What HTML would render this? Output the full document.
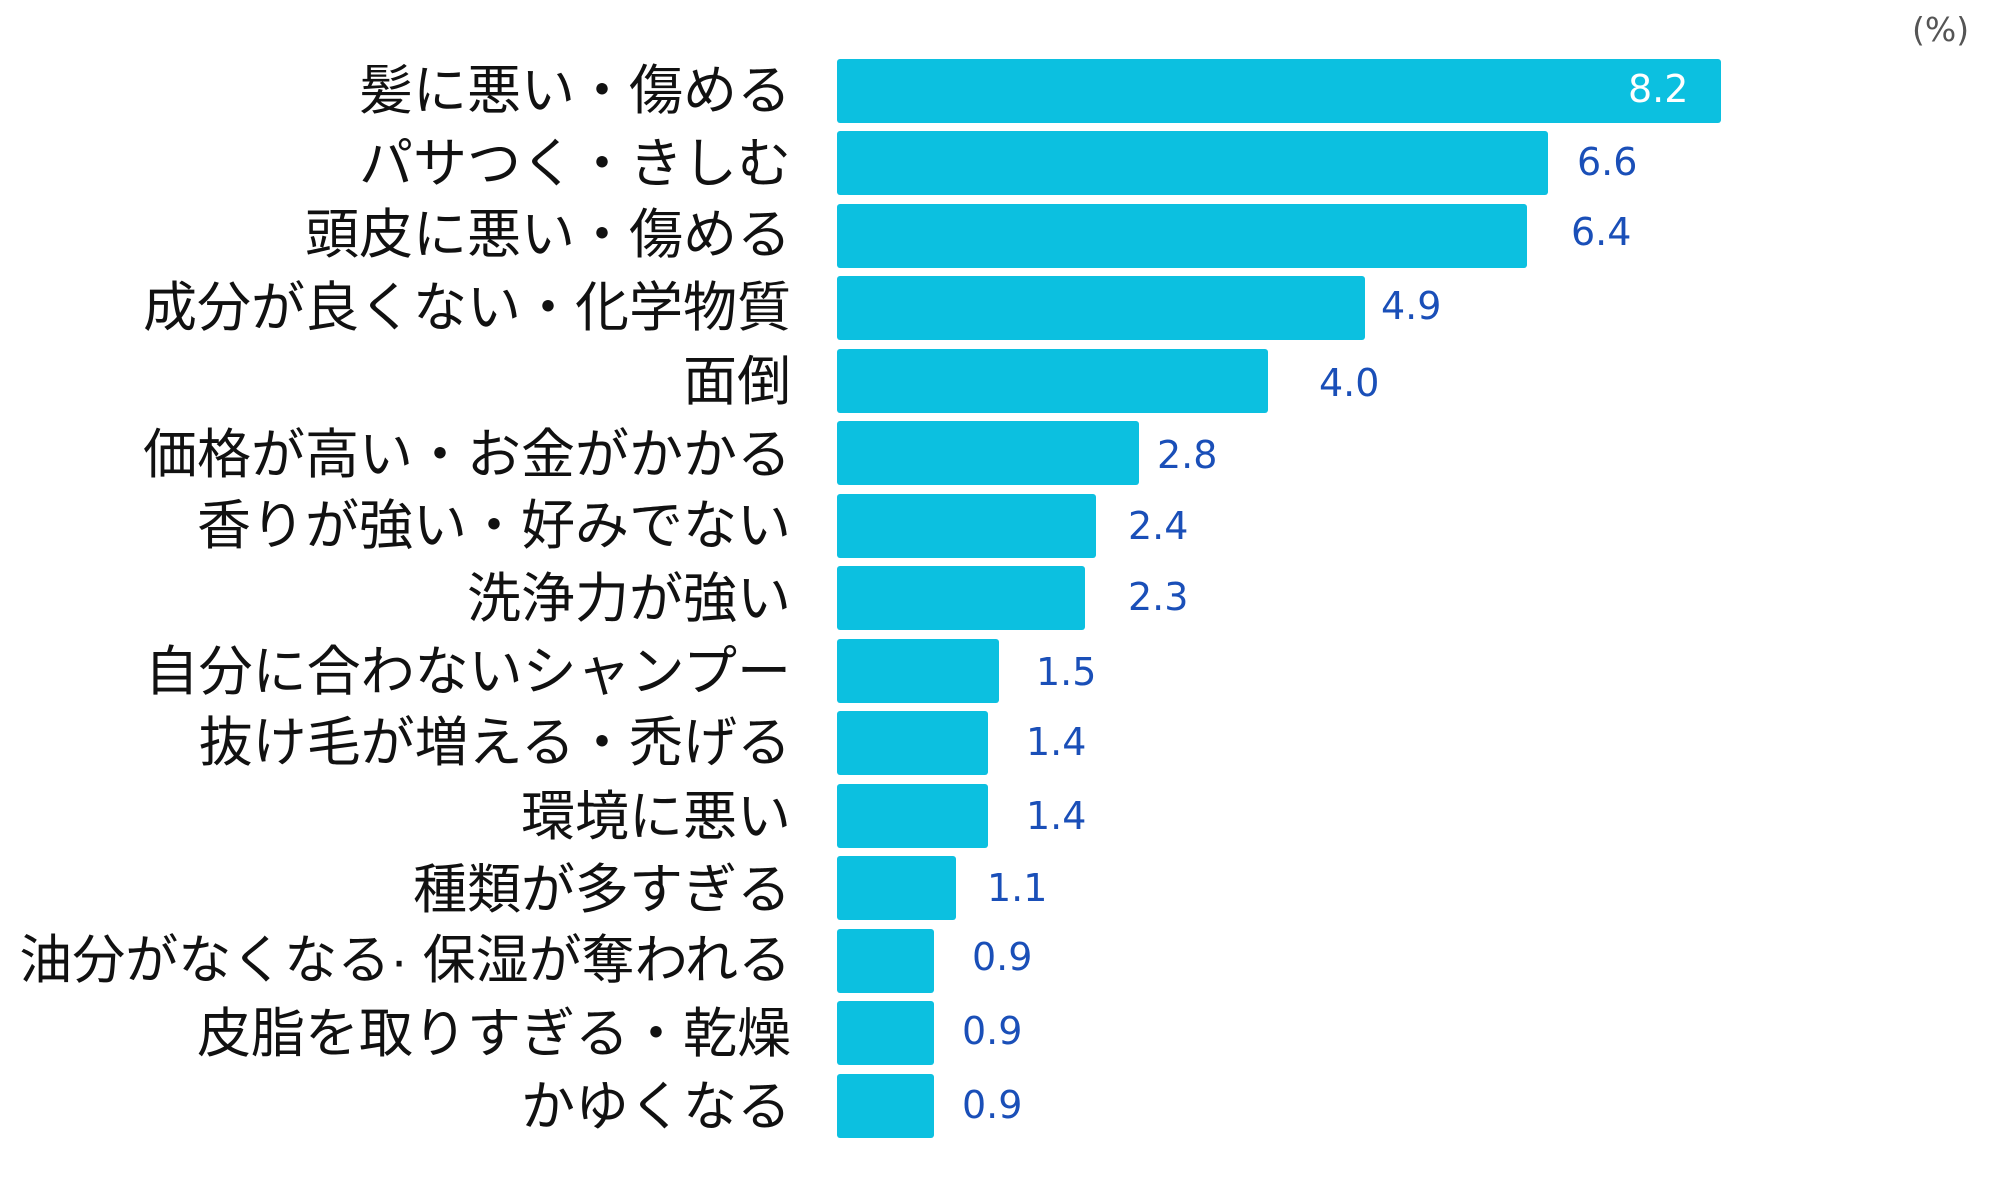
<!DOCTYPE html>
<html><head><meta charset="utf-8"><style>
body{margin:0;width:2000px;height:1200px;background:#fff;position:relative;overflow:hidden}
.b{position:absolute;left:837px;height:64px;background:#0cc0e0;border-radius:3px}
.l{position:absolute;right:1209px;font-family:"Liberation Sans","Noto Sans CJK JP",sans-serif;font-size:54px;color:#111;white-space:nowrap;line-height:60px;transform:translateY(-28px)}
.v{position:absolute;font-family:"DejaVu Sans",sans-serif;font-size:38px;color:#1a4fb8;line-height:44px;transform:translateY(-22px)}
</style></head><body>
<div style="position:absolute;left:1912px;top:10px;font-family:'DejaVu Sans',sans-serif;font-size:33px;color:#555">(%)</div>

<div class="b" style="top:59px;width:884px"></div>
<div class="b" style="top:131px;width:711px"></div>
<div class="b" style="top:204px;width:690px"></div>
<div class="b" style="top:276px;width:528px"></div>
<div class="b" style="top:349px;width:431px"></div>
<div class="b" style="top:421px;width:302px"></div>
<div class="b" style="top:494px;width:259px"></div>
<div class="b" style="top:566px;width:248px"></div>
<div class="b" style="top:639px;width:162px"></div>
<div class="b" style="top:711px;width:151px"></div>
<div class="b" style="top:784px;width:151px"></div>
<div class="b" style="top:856px;width:119px"></div>
<div class="b" style="top:929px;width:97px"></div>
<div class="b" style="top:1001px;width:97px"></div>
<div class="b" style="top:1074px;width:97px"></div>

<div class="l" style="top:89px">髪に悪い・傷める</div>
<div class="l" style="top:162px">パサつく・きしむ</div>
<div class="l" style="top:233px">頭皮に悪い・傷める</div>
<div class="l" style="top:306px">成分が良くない・化学物質</div>
<div class="l" style="top:380px">面倒</div>
<div class="l" style="top:453px">価格が高い・お金がかかる</div>
<div class="l" style="top:524px">香りが強い・好みでない</div>
<div class="l" style="top:597px">洗浄力が強い</div>
<div class="l" style="top:670px">自分に合わないシャンプー</div>
<div class="l" style="top:741px">抜け毛が増える・禿げる</div>
<div class="l" style="top:815px">環境に悪い</div>
<div class="l" style="top:888px">種類が多すぎる</div>
<div class="l" style="top:959px;font-size:53px">油分がなくなる· 保湿が奪われる</div>
<div class="l" style="top:1032px">皮脂を取りすぎる・乾燥</div>
<div class="l" style="top:1105px">かゆくなる</div>

<div class="v" style="left:1628px;top:89px;color:#fff">8.2</div>
<div class="v" style="left:1577px;top:162px">6.6</div>
<div class="v" style="left:1571px;top:232px">6.4</div>
<div class="v" style="left:1381px;top:306px">4.9</div>
<div class="v" style="left:1319px;top:383px">4.0</div>
<div class="v" style="left:1157px;top:455px">2.8</div>
<div class="v" style="left:1128px;top:526px">2.4</div>
<div class="v" style="left:1128px;top:597px">2.3</div>
<div class="v" style="left:1036px;top:672px">1.5</div>
<div class="v" style="left:1026px;top:742px">1.4</div>
<div class="v" style="left:1026px;top:816px">1.4</div>
<div class="v" style="left:987px;top:888px">1.1</div>
<div class="v" style="left:972px;top:957px">0.9</div>
<div class="v" style="left:962px;top:1031px">0.9</div>
<div class="v" style="left:962px;top:1105px">0.9</div>
</body></html>
